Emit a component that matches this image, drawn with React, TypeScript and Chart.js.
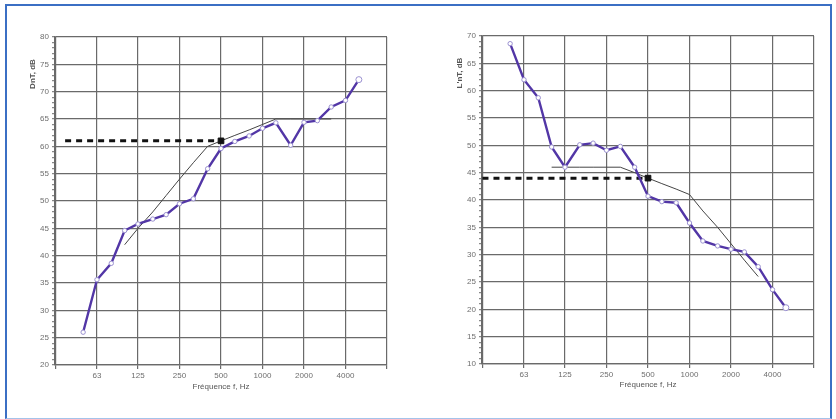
import React, { useEffect, useRef } from 'react';
import { Chart, registerables } from 'chart.js';

Chart.register(...registerables);

// ---- data ----
const bandFreqs = [50, 63, 80, 100, 125, 160, 200, 250, 315, 400, 500, 630, 800, 1000, 1250, 1600, 2000, 2500, 3150, 4000, 5000];
const leftMeasured = [26, 35.6, 38.6, 44.6, 45.8, 46.7, 47.5, 49.5, 50.4, 55.9, 59.6, 60.9, 61.9, 63.3, 64.3, 60.2, 64.4, 64.7, 67.2, 68.4, 72.2];
const rightMeasured = [68.6, 62, 58.7, 49.7, 46, 50.1, 50.4, 49.1, 49.8, 46, 40.7, 39.7, 39.5, 35.8, 32.5, 31.6, 31, 30.5, 27.8, 23.6, 20.3];

const refFreqs = [100, 125, 160, 200, 250, 315, 400, 500, 630, 800, 1000, 1250, 1600, 2000, 2500, 3150];
const leftReference = [42, 45, 48, 51, 54, 57, 60, 61, 62, 63, 64, 65, 65, 65, 65, 65];
const rightReference = [46, 46, 46, 46, 46, 46, 45, 44, 43, 42, 41, 38, 35, 32, 29, 26];

const ratingFreq = 500;
const leftRating = 61;
const rightRating = 44;
const leftDashStartFreq = 37;
const rightDashStartFreq = 31.5;

const xTickFreqs = [31.5, 63, 125, 250, 500, 1000, 2000, 4000, 8000];
const xTickLabels = ['', '63', '125', '250', '500', '1000', '2000', '4000', ''];
const leftYMajor = [20, 25, 30, 35, 40, 45, 50, 55, 60, 65, 70, 75, 80];
const rightYMajor = [10, 15, 20, 25, 30, 35, 40, 45, 50, 55, 60, 65, 70];

const xTitle = 'Fréquence f, Hz';
const leftYTitle = 'DnT, dB';
const rightYTitle = "L'nT, dB";

// ---- styles ----
const FONT = '"Liberation Sans", Arial, sans-serif';
const GRID = '#6a6a6a';
const TEXT = '#6e6e6e';
const PURPLE = '#5236a6';
const MARKER = '#9a90d0';

const yTitlePlugin = {
  id: 'yTitle',
  afterDraw(chart: any, _args: any, opts: any) {
    const { ctx, chartArea } = chart;
    ctx.save();
    ctx.translate(chartArea.left - opts.dx, chartArea.top + opts.dy);
    ctx.rotate(-Math.PI / 2);
    ctx.font = `bold 8px ${FONT}`;
    ctx.fillStyle = '#555';
    ctx.textAlign = 'center';
    ctx.textBaseline = 'middle';
    ctx.fillText(opts.text, 0, 0);
    ctx.restore();
  },
};

type Props = {
  left: number;
  top: number;
  measured: number[];
  reference: number[];
  rating: number;
  dashStart: number;
  yMin: number;
  yMax: number;
  yMajor: number[];
  yTitleText: string;
  yAxisWidth: number;
  xAxisHeight: number;
  padTop: number;
  padRight: number;
  xTitlePadBottom: number;
};

function AcousticChart(p: Props) {
  const ref = useRef<HTMLCanvasElement>(null);
  useEffect(() => {
    if (!ref.current) return;
    const chart = new Chart(ref.current, {
      type: 'line',
      data: {
        datasets: [
          {
            data: bandFreqs.map((f, i) => ({ x: f, y: p.measured[i] })),
            borderColor: PURPLE,
            borderWidth: 2.4,
            pointRadius: bandFreqs.map((_, i) => (i === bandFreqs.length - 1 ? 3 : 2.2)),
            pointBackgroundColor: '#ffffff',
            pointBorderColor: MARKER,
            pointBorderWidth: 1,
            tension: 0,
          },
          {
            data: [{ x: ratingFreq, y: p.rating }],
            showLine: false,
            pointStyle: 'rect',
            pointRadius: 4,
            pointBackgroundColor: '#111',
            pointBorderColor: '#111',
          },
          {
            data: [
              { x: p.dashStart, y: p.rating },
              { x: ratingFreq, y: p.rating },
            ],
            borderColor: '#111',
            borderWidth: 3,
            borderDash: [6, 5],
            pointRadius: 0,
          },
          {
            data: refFreqs.map((f, i) => ({ x: f, y: p.reference[i] })),
            borderColor: '#444',
            borderWidth: 1,
            pointRadius: 0,
            tension: 0,
          },
        ],
      },
      options: {
        responsive: false,
        animation: false,
        events: [],
        layout: { padding: { top: p.padTop, right: p.padRight, left: 0, bottom: 0 } },
        plugins: {
          legend: { display: false },
          tooltip: { enabled: false },
          yTitle: { text: p.yTitleText, dx: 22, dy: 37 },
        } as any,
        scales: {
          x: {
            type: 'logarithmic',
            min: 31.25,
            max: 8000,
            afterBuildTicks: (scale: any) => {
              scale.ticks = xTickFreqs.map((v) => ({ value: v }));
            },
            afterFit: (scale: any) => {
              scale.height = p.xAxisHeight;
            },
            grid: { color: GRID, lineWidth: 1.2, tickLength: 4, tickColor: GRID },
            border: { color: GRID, width: 1.2 },
            ticks: {
              autoSkip: false,
              maxRotation: 0,
              padding: 2,
              color: TEXT,
              font: { family: FONT, size: 8 },
              callback: (_v: any, i: number) => xTickLabels[i],
            },
            title: {
              display: true,
              text: xTitle,
              color: '#555',
              font: { family: FONT, size: 8 },
              padding: { top: 0, bottom: p.xTitlePadBottom },
            },
          },
          y: {
            type: 'linear',
            min: p.yMin,
            max: p.yMax,
            afterFit: (scale: any) => {
              scale.width = p.yAxisWidth;
            },
            grid: {
              color: (c: any) => (p.yMajor.includes(c.tick?.value) ? GRID : 'rgba(0,0,0,0)'),
              lineWidth: 1.2,
              tickLength: 3,
              tickColor: '#888',
            },
            border: { color: GRID, width: 1.2 },
            ticks: {
              stepSize: 1,
              maxTicksLimit: 100,
              autoSkip: false,
              padding: 3,
              color: TEXT,
              font: { family: FONT, size: 8 },
              callback: (v: any) => (p.yMajor.includes(v) ? String(v) : ''),
            },
          },
        },
      } as any,
      plugins: [yTitlePlugin],
    });
    return () => chart.destroy();
  }, []);
  return (
    <canvas
      ref={ref}
      width={400}
      height={400}
      style={{ position: 'absolute', left: p.left, top: p.top, width: 400, height: 400 }}
    />
  );
}

export default function App() {
  return (
    <div style={{ position: 'fixed', left: 0, top: 0, width: 836, height: 419, background: '#fff', overflow: 'hidden' }}>
      <div
        style={{
          position: 'absolute',
          left: 5,
          top: 4,
          width: 827,
          height: 415,
          boxSizing: 'border-box',
          borderLeft: '2px solid #3b6fc4',
          borderTop: '2px solid #3b6fc4',
          borderRight: '2px solid #3b6fc4',
          borderBottom: '1px solid #a4c3ea',
        }}
      />
      <AcousticChart
        left={8}
        top={8}
        measured={leftMeasured}
        reference={leftReference}
        rating={leftRating}
        dashStart={leftDashStartFreq}
        yMin={20}
        yMax={80}
        yMajor={leftYMajor}
        yTitleText={leftYTitle}
        yAxisWidth={47}
        xAxisHeight={43}
        padTop={29}
        padRight={21}
        xTitlePadBottom={16}
      />
      <AcousticChart
        left={424}
        top={8}
        measured={rightMeasured}
        reference={rightReference}
        rating={rightRating}
        dashStart={rightDashStartFreq}
        yMin={10}
        yMax={70}
        yMajor={rightYMajor}
        yTitleText={rightYTitle}
        yAxisWidth={58}
        xAxisHeight={44}
        padTop={28}
        padRight={10}
        xTitlePadBottom={18}
      />
    </div>
  );
}
